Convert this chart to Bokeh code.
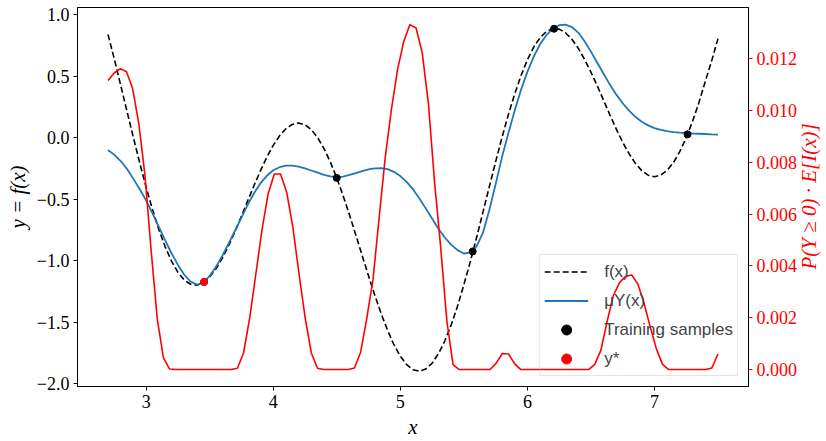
import math
import numpy as np
from bokeh.plotting import figure
from bokeh.models import (Range1d, LinearAxis, FixedTicker, CustomJSTickFormatter,
                          Legend, LegendItem, Label)
from bokeh.embed import file_html
from bokeh.resources import INLINE

# ---------------- data ----------------
# true function f(x), every 0.05 from 2.7 to 7.5
f_vals = [0.840, 0.638, 0.426, 0.212, 0.000, -0.206,
          -0.403, -0.584, -0.747, -0.888, -1.004, -1.095, -1.158, -1.192, -1.200, -1.179,
          -1.131, -1.066, -0.979, -0.876, -0.761, -0.638, -0.512, -0.387, -0.268, -0.158,
          -0.063, 0.015, 0.073, 0.108, 0.119, 0.105, 0.065, 0.000, -0.089, -0.199,
          -0.327, -0.471, -0.627, -0.792, -0.959, -1.124, -1.284, -1.433, -1.567, -1.684,
          -1.777, -1.847, -1.887, -1.900, -1.882, -1.835, -1.758, -1.654, -1.524, -1.372,
          -1.197, -1.012, -0.814, -0.608, -0.401, -0.197, 0.001, 0.186, 0.355, 0.505,
          0.634, 0.737, 0.814, 0.864, 0.887, 0.883, 0.854, 0.801, 0.728, 0.637,
          0.534, 0.421, 0.303, 0.184, 0.069, -0.037, -0.130, -0.209, -0.268, -0.305,
          -0.317, -0.304, -0.265, -0.202, -0.112, 0.000, 0.133, 0.286, 0.458, 0.625,
          0.806]
f_x = np.linspace(2.7, 7.5, len(f_vals))

# GP posterior mean mu_Y(x), every 0.05 from 2.7 to 7.5
mu_vals = [-0.100, -0.140, -0.190, -0.255, -0.335, -0.420,
           -0.510, -0.615, -0.725, -0.835, -0.940, -1.035, -1.115, -1.170, -1.195, -1.180,
           -1.125, -1.050, -0.960, -0.860, -0.755, -0.650, -0.545, -0.450, -0.370, -0.310,
           -0.265, -0.240, -0.228, -0.227, -0.235, -0.250, -0.267, -0.285, -0.302, -0.315,
           -0.320, -0.316, -0.303, -0.288, -0.272, -0.258, -0.250, -0.248, -0.256, -0.278,
           -0.312, -0.360, -0.420, -0.495, -0.575, -0.658, -0.740, -0.812, -0.870, -0.915,
           -0.942, -0.935, -0.885, -0.775, -0.590, -0.380, -0.160, 0.035, 0.220, 0.390,
           0.535, 0.660, 0.760, 0.835, 0.885, 0.915, 0.920, 0.900, 0.855, 0.785,
           0.700, 0.610, 0.520, 0.430, 0.350, 0.280, 0.220, 0.170, 0.130, 0.100,
           0.078, 0.063, 0.053, 0.046, 0.041, 0.037, 0.034, 0.032, 0.030, 0.027,
           0.025]
mu_x = np.linspace(2.7, 7.5, len(mu_vals))

# training samples
train_x = [3.456, 4.50, 5.57, 6.21, 7.26]
train_y = [-1.174, -0.327, -0.925, 0.886, 0.027]

# best sample y*
ystar_x = [3.456]
ystar_y = [-1.174]

# acquisition P(Y>=0)*E[I(x)], 100 points between 2.7 and 7.5
acq_vals = [0.01116, 0.01145, 0.01162, 0.01150, 0.01085, 0.00950, 0.00750, 0.00460, 0.00195, 0.00045,
            0.00002, 0.0, 0.0, 0.0, 0.0, 0.0, 0.0, 0.0, 0.0, 0.0,
            0.0, 0.00005, 0.00064, 0.00200, 0.00370, 0.00540, 0.00680, 0.00755, 0.00755, 0.00685,
            0.00550, 0.00370, 0.00200, 0.00064, 0.00005, 0.0, 0.0, 0.0, 0.0, 0.0,
            0.00006, 0.00067, 0.00198, 0.00346, 0.00585, 0.00820, 0.01005, 0.01159, 0.01267, 0.01332,
            0.01319, 0.01223, 0.01028, 0.00724, 0.00470, 0.00187, 0.00019, 0.0, 0.0, 0.0,
            0.0, 0.0, 0.0, 0.00025, 0.00062, 0.00060, 0.00022, 0.0, 0.0, 0.0,
            0.0, 0.0, 0.0, 0.0, 0.0, 0.0, 0.0, 0.0, 0.0, 0.00020,
            0.00075, 0.00185, 0.00285, 0.00335, 0.00360, 0.00365, 0.00330, 0.00255, 0.00165, 0.00080,
            0.00020, 0.0, 0.0, 0.0, 0.0, 0.0, 0.0, 0.0, 0.00006, 0.00060]
acq_x = np.linspace(2.7, 7.5, len(acq_vals))

x_ticks = [3, 4, 5, 6, 7]
y_ticks = [-2.0, -1.5, -1.0, -0.5, 0.0, 0.5, 1.0]
acq_ticks = [0.0, 0.002, 0.004, 0.006, 0.008, 0.010, 0.012]

# ---------------- figure ----------------
SERIF = "Liberation Serif"
W, H = 826, 441
FRAME_L, FRAME_R, FRAME_T, FRAME_B = 77, 748, 7, 387
p = figure(width=W, height=H, output_backend="svg", toolbar_location=None,
           x_range=Range1d(2.46, 7.74), y_range=Range1d(-2.024, 1.059),
           min_border_left=FRAME_L, min_border_right=W - FRAME_R, min_border_top=FRAME_T,
           min_border_bottom=H - FRAME_B,
           background_fill_color="white", border_fill_color="white")
p.xgrid.visible = False
p.ygrid.visible = False
p.outline_line_color = "black"
p.outline_line_width = 1
p.outline_line_alpha = 1

p.extra_y_ranges = {"acq": Range1d(-0.000654, 0.01398)}


def style_axis(ax, color, tick_color):
    ax.major_label_text_font = SERIF
    ax.major_label_text_font_size = "18px"
    ax.major_label_text_color = color
    ax.axis_label_text_font = SERIF
    ax.axis_label_text_font_size = "21px"
    ax.axis_label_text_font_style = "italic"
    ax.axis_label_text_color = color
    ax.major_tick_out = 4
    ax.major_tick_in = 0
    ax.minor_tick_out = 0
    ax.minor_tick_in = 0
    ax.major_label_standoff = 4
    ax.axis_label_standoff = 4
    ax.axis_line_color = "black"
    ax.major_tick_line_color = tick_color


style_axis(p.xaxis[0], "black", "black")
style_axis(p.yaxis[0], "black", "black")
p.xaxis.ticker = FixedTicker(ticks=x_ticks)
p.xaxis.formatter = CustomJSTickFormatter(code="return tick.toFixed(0);")
p.xaxis.axis_label = "x"
p.yaxis.ticker = FixedTicker(ticks=y_ticks)
p.yaxis.formatter = CustomJSTickFormatter(code="return tick.toFixed(1).replace('-', '\u2212');")
p.yaxis.axis_label = "y = f(x)"

ax2 = LinearAxis(y_range_name="acq", ticker=FixedTicker(ticks=acq_ticks),
                 formatter=CustomJSTickFormatter(code="return tick.toFixed(3);"))
style_axis(ax2, "red", "red")
p.add_layout(ax2, "right")

# right-hand axis title, reading bottom to top, placed in the right side panel
right_title = Label(x=8, y=(FRAME_B - FRAME_T) / 2,
                    x_units="screen", y_units="screen",
                    text="P(Y \u2265 0) \u00b7 E[I(x)]", angle=math.pi / 2,
                    text_align="center", text_baseline="middle",
                    text_font=SERIF, text_font_size="21px", text_font_style="italic",
                    text_color="red")
p.add_layout(right_title, "right")

# ---------------- glyphs ----------------
r_f = p.line(f_x, f_vals, line_color="black", line_dash="6 3", line_width=1.6)
r_mu = p.line(mu_x, mu_vals, line_color="#1f77b4", line_width=1.8)
r_tr = p.scatter(train_x, train_y, marker="circle", size=7, color="black")
r_ys = p.scatter(ystar_x, ystar_y, marker="circle", size=7, color="red")
p.line(acq_x, acq_vals, y_range_name="acq", line_color="red", line_width=1.6)

legend = Legend(items=[LegendItem(label="f(x)", renderers=[r_f]),
                       LegendItem(label="\u03bcY(x)", renderers=[r_mu]),
                       LegendItem(label="Training samples", renderers=[r_tr]),
                       LegendItem(label="y*", renderers=[r_ys])],
                location="bottom_right")
legend.margin = 10
legend.padding = 4
legend.spacing = 4
legend.glyph_width = 44
legend.glyph_height = 25
legend.label_height = 25
legend.label_standoff = 16
legend.label_text_font = "Liberation Sans"
legend.label_text_font_size = "17px"
legend.border_line_color = "#cccccc"
legend.border_line_width = 1
legend.background_fill_alpha = 0.0
p.add_layout(legend)

open("out.html", "w").write(file_html(p, INLINE))
